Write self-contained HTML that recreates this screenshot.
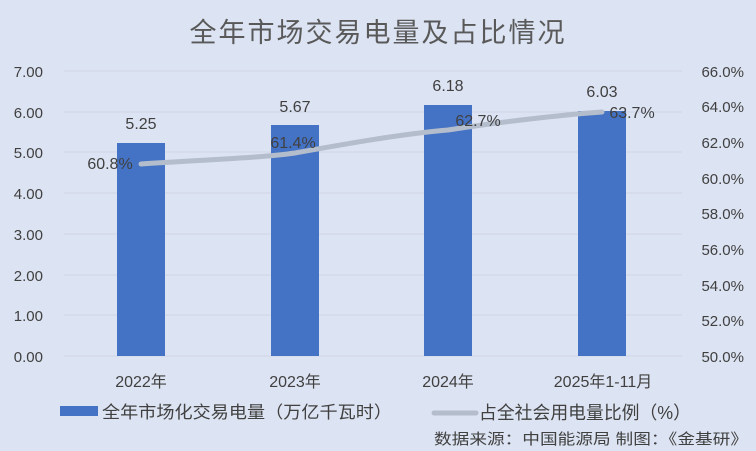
<!DOCTYPE html><html><head><meta charset="utf-8"><style>
body{margin:0;background:#dce3f2;}
svg{display:block;font-family:"Liberation Sans","Noto Sans CJK SC",sans-serif;}
</style></head><body>
<svg width="756" height="451" viewBox="0 0 756 451">
<rect width="756" height="451" fill="#dce3f2"/>
<text x="378" y="42" font-size="27" fill="#595959" text-anchor="middle" letter-spacing="2">全年市场交易电量及占比情况</text>
<g stroke="#cfd6e6" stroke-width="1">
<line x1="64" x2="682" y1="71" y2="71"/><line x1="64" x2="682" y1="112" y2="112"/>
<line x1="64" x2="682" y1="152" y2="152"/><line x1="64" x2="682" y1="193" y2="193"/>
<line x1="64" x2="682" y1="234" y2="234"/><line x1="64" x2="682" y1="275" y2="275"/>
<line x1="64" x2="682" y1="315" y2="315"/><line x1="64" x2="682" y1="356" y2="356"/>
</g>
<g font-size="15" fill="#404040" text-anchor="end">
<text x="43" y="77">7.00</text><text x="43" y="118">6.00</text><text x="43" y="158">5.00</text>
<text x="43" y="199">4.00</text><text x="43" y="240">3.00</text><text x="43" y="281">2.00</text>
<text x="43" y="321">1.00</text><text x="43" y="362">0.00</text>
</g>
<g font-size="15" fill="#404040" text-anchor="end">
<text x="744" y="77">66.0%</text><text x="744" y="112">64.0%</text><text x="744" y="148">62.0%</text>
<text x="744" y="184">60.0%</text><text x="744" y="219">58.0%</text><text x="744" y="255">56.0%</text>
<text x="744" y="291">54.0%</text><text x="744" y="326">52.0%</text><text x="744" y="362">50.0%</text>
</g>
<g fill="#4472c4">
<rect x="117" y="143" width="48" height="213"/>
<rect x="271" y="125" width="48" height="231"/>
<rect x="424" y="105" width="48" height="251"/>
<rect x="578" y="111" width="48" height="245"/>
</g>
<path d="M141,164 C200,160 260,158 295,153 C340,145 400,134 448,130 C500,122 560,115 602,112" fill="none" stroke="#b4bdcc" stroke-width="5" stroke-linecap="round"/>
<g font-size="16" fill="#404040" text-anchor="middle">
<text x="141" y="129">5.25</text><text x="295" y="112">5.67</text>
<text x="448" y="91">6.18</text><text x="602" y="97">6.03</text>
<text x="110" y="169">60.8%</text><text x="293" y="148">61.4%</text>
<text x="478" y="126">62.7%</text><text x="632" y="118">63.7%</text>
</g>
<g font-size="16" fill="#404040" text-anchor="middle">
<text x="141" y="387">2022年</text><text x="295" y="387">2023年</text>
<text x="448" y="387">2024年</text><text x="603" y="387">2025年1-11月</text>
</g>
<rect x="60" y="406" width="38" height="10" fill="#4472c4"/>
<text x="102" y="418" font-size="17" fill="#404040" textLength="290" lengthAdjust="spacingAndGlyphs">全年市场化交易电量（万亿千瓦时）</text>
<line x1="434" x2="476" y1="413" y2="413" stroke="#b4bdcc" stroke-width="5" stroke-linecap="round"/>
<text x="479" y="419" font-size="18" fill="#404040" textLength="212" lengthAdjust="spacingAndGlyphs">占全社会用电量比例（%）</text>
<text x="434" y="444" font-size="15" fill="#404040" textLength="314" lengthAdjust="spacingAndGlyphs">数据来源：中国能源局  制图：《金基研》</text>
</svg>
</body></html>
